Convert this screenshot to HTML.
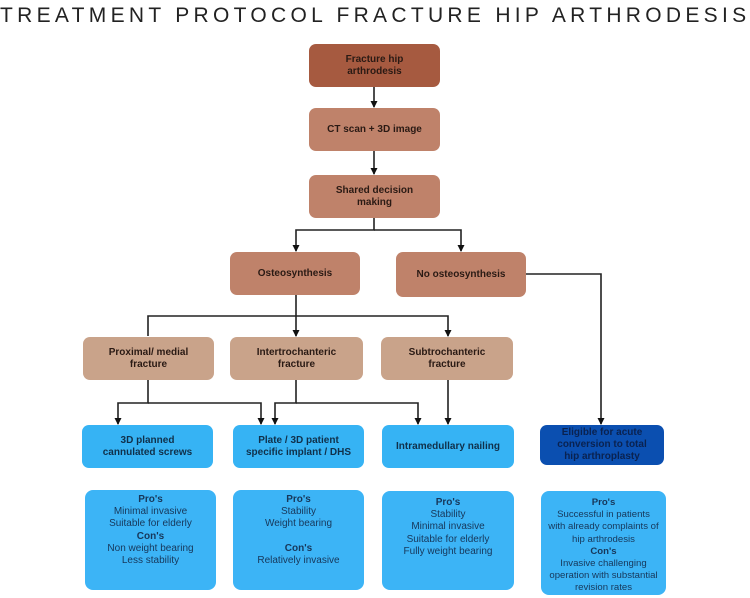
<!DOCTYPE html>
<html><head><meta charset="utf-8"><style>
html,body{margin:0;padding:0;background:#fff;}
body{width:750px;height:598px;position:relative;overflow:hidden;font-family:"Liberation Sans",sans-serif;}
.t{position:absolute;left:0;top:4px;width:750px;text-align:center;font-size:21px;letter-spacing:4.3px;color:#222;white-space:nowrap;}
.b{position:absolute;border-radius:7px;display:flex;align-items:center;justify-content:center;text-align:center;font-weight:bold;font-size:10px;line-height:12px;color:#2a1a14;box-sizing:border-box;}
.d{background:#a65a40;}
.m{background:#bf826a;}
.l{background:#c9a38a;}
.c{background:#36b3f4;color:#10304a;}
.n{background:#0b4fb0;color:#0a2250;}
.p{position:absolute;border-radius:8px;background:#3cb4f6;text-align:center;font-size:10px;line-height:12.2px;color:#17375a;padding-top:4px;box-sizing:border-box;}
.p b{font-weight:bold;}
svg{position:absolute;left:0;top:0;}
</style></head><body>
<div class="t">TREATMENT PROTOCOL FRACTURE HIP ARTHRODESIS</div>
<svg width="750" height="598">
<defs><marker id="a" markerWidth="6" markerHeight="6" refX="3" refY="5" orient="auto" markerUnits="userSpaceOnUse"><path d="M0,0 L6,0 L3,6 z" fill="#111" transform="rotate(-90 3 3)"/></marker>
<marker id="v" markerWidth="7" markerHeight="7" refX="3.5" refY="6" markerUnits="userSpaceOnUse"><path d="M0,0 L7,0 L3.5,7 z" fill="#111"/></marker></defs>
<g stroke="#222" stroke-width="1.6" fill="none">
<line x1="374" y1="87" x2="374" y2="107" marker-end="url(#v)"/>
<line x1="374" y1="151" x2="374" y2="174" marker-end="url(#v)"/>
<polyline points="374,218 374,230 296,230 296,251" marker-end="url(#v)"/>
<polyline points="374,230 461,230 461,251" marker-end="url(#v)"/>
<polyline points="526,274 601,274 601,424" marker-end="url(#v)"/>
<line x1="296" y1="295" x2="296" y2="336" marker-end="url(#v)"/>
<polyline points="148,336 148,316 448,316 448,336" marker-end="url(#v)"/>
<polyline points="148,380 148,403 118,403 118,424" marker-end="url(#v)"/>
<polyline points="148,403 261,403 261,424" marker-end="url(#v)"/>
<polyline points="296,380 296,403 275,403 275,424" marker-end="url(#v)"/>
<polyline points="296,403 418,403 418,424" marker-end="url(#v)"/>
<line x1="448" y1="380" x2="448" y2="424" marker-end="url(#v)"/>
</g></svg>
<div class="b d" style="left:309px;top:44px;width:131px;height:43px">Fracture hip<br>arthrodesis</div>
<div class="b m" style="left:309px;top:108px;width:131px;height:43px">CT scan + 3D image</div>
<div class="b m" style="left:309px;top:175px;width:131px;height:43px">Shared decision<br>making</div>
<div class="b m" style="left:230px;top:252px;width:130px;height:43px">Osteosynthesis</div>
<div class="b m" style="left:396px;top:252px;width:130px;height:45px">No osteosynthesis</div>
<div class="b l" style="left:83px;top:337px;width:131px;height:43px">Proximal/ medial<br>fracture</div>
<div class="b l" style="left:230px;top:337px;width:133px;height:43px">Intertrochanteric<br>fracture</div>
<div class="b l" style="left:381px;top:337px;width:132px;height:43px">Subtrochanteric<br>fracture</div>
<div class="b c" style="left:82px;top:425px;width:131px;height:43px">3D planned<br>cannulated screws</div>
<div class="b c" style="left:233px;top:425px;width:131px;height:43px">Plate / 3D patient<br>specific implant / DHS</div>
<div class="b c" style="left:382px;top:425px;width:132px;height:43px">Intramedullary nailing</div>
<div class="b n" style="left:540px;top:425px;width:124px;height:40px">Eligible for acute<br>conversion to total<br>hip arthroplasty</div>
<div class="p" style="left:85px;top:490px;width:131px;height:100px"><b>Pro's</b><br>Minimal invasive<br>Suitable for elderly<br><b>Con's</b><br>Non weight bearing<br>Less stability</div>
<div class="p" style="left:233px;top:490px;width:131px;height:100px"><b>Pro's</b><br>Stability<br>Weight bearing<br><br><b>Con's</b><br>Relatively invasive</div>
<div class="p" style="left:382px;top:491px;width:132px;height:99px;padding-top:6px"><b>Pro's</b><br>Stability<br>Minimal invasive<br>Suitable for elderly<br>Fully weight bearing</div>
<div class="p" style="left:541px;top:491px;width:125px;height:104px;padding-top:6px;font-size:9.6px"><b>Pro's</b><br>Successful in patients<br>with already complaints of<br>hip arthrodesis<br><b>Con's</b><br>Invasive challenging<br>operation with substantial<br>revision rates</div>
</body></html>
